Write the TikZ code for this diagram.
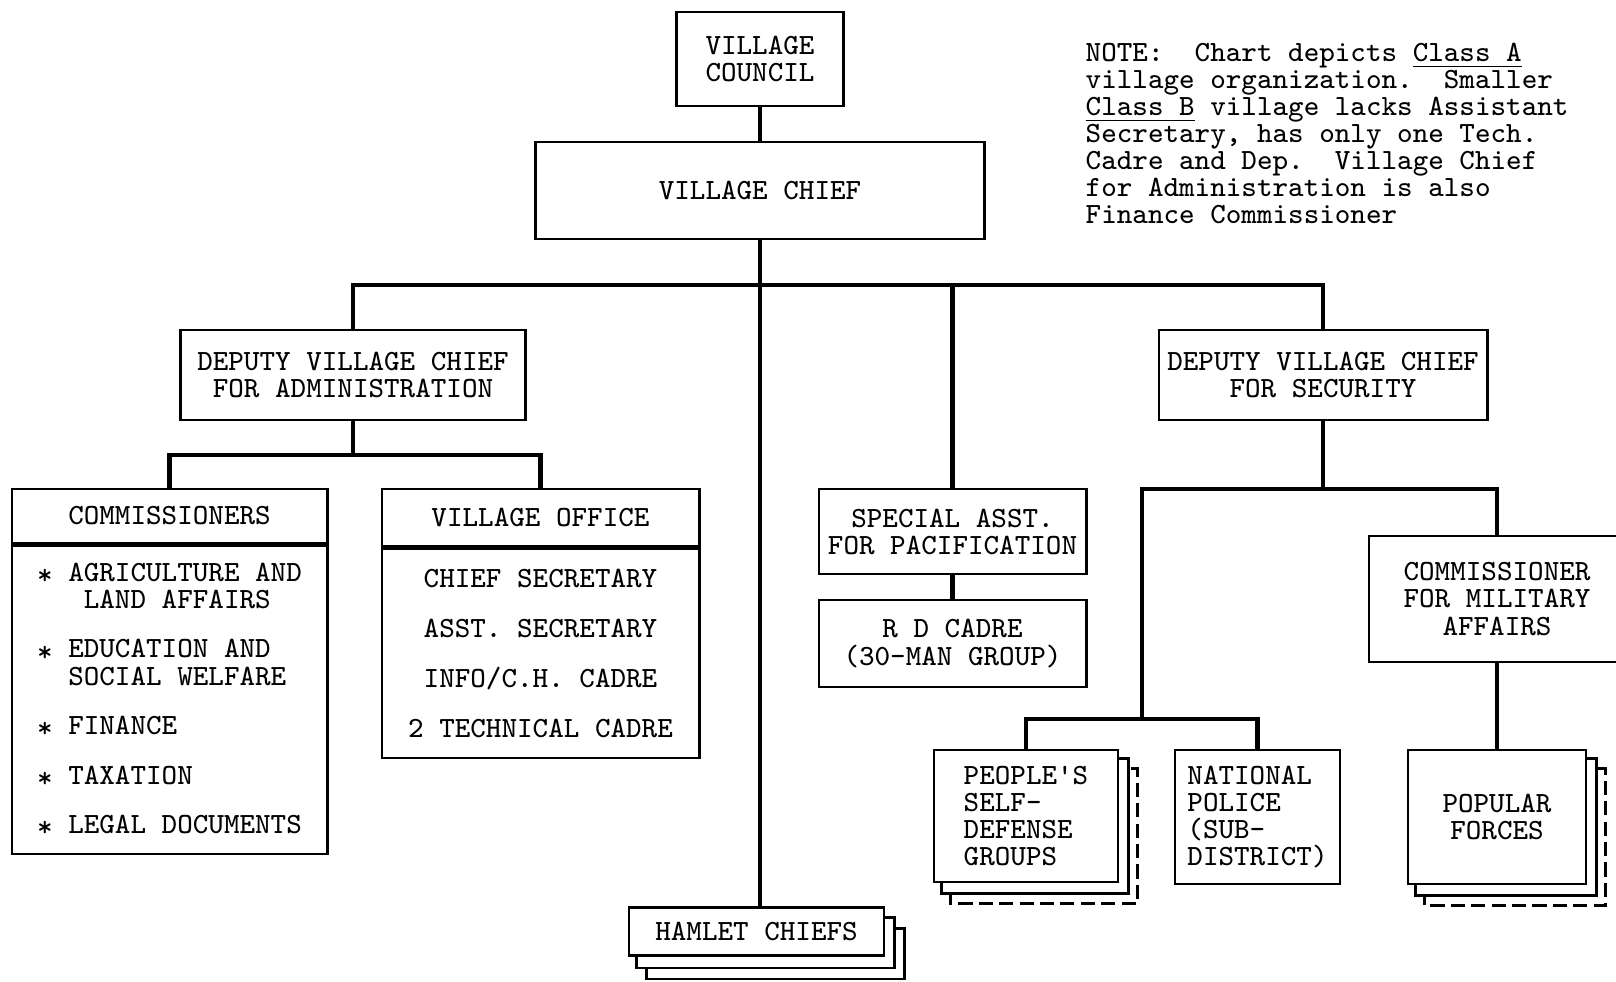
\documentclass[tikz,border=0pt]{standalone}
\usetikzlibrary{backgrounds}
\newcommand\chartfont{\ttfamily\fontsize{8.34pt}{7.7pt}\selectfont}
\newcommand\itm{\raisebox{-.25ex}{*}~}
\begin{document}
\begin{tikzpicture}[x=0.01cm,y=-0.01cm,
  unit/.style={draw,line width=.8pt,fill=white,font=\chartfont,align=center,inner sep=0pt},
  link/.style={line width=1.3pt},
  layer/.style={draw,line width=.8pt,fill=white}]
\useasboundingbox (0,0) rectangle (1616,981);
\node[unit,minimum width=1.67cm,minimum height=.94cm] (council) at (760,59) {VILLAGE\\COUNCIL};
\node[unit,minimum width=4.48cm,minimum height=.97cm] (chief) at (760,190.5) {VILLAGE CHIEF};
\node[unit,minimum width=3.45cm,minimum height=.9cm] (depadmin) at (353,375) {DEPUTY VILLAGE CHIEF\\FOR ADMINISTRATION};
\node[unit,minimum width=3.28cm,minimum height=.9cm] (depsec) at (1323,375) {DEPUTY VILLAGE CHIEF\\FOR SECURITY};
\node[unit,minimum width=3.15cm,minimum height=.54cm] (commhead) at (169.5,516) {COMMISSIONERS};
\node[unit,minimum width=3.15cm,minimum height=3.08cm,anchor=north,align=left] (commbody) at (commhead.south)
  {\itm AGRICULTURE AND\\ \phantom{***}LAND AFFAIRS\\[6.4pt]
   \itm EDUCATION AND\\ \phantom{**}SOCIAL WELFARE\\[6.4pt]
   \itm FINANCE\\[6.4pt]\itm TAXATION\\[6.4pt]\itm LEGAL DOCUMENTS};
\node[unit,minimum width=3.17cm,minimum height=.57cm] (offhead) at (540.5,517.5) {VILLAGE OFFICE};
\node[unit,minimum width=3.17cm,minimum height=2.09cm,anchor=north] (offbody) at (offhead.south)
  {CHIEF SECRETARY\\[6.6pt]ASST. SECRETARY\\[6.6pt]INFO/C.H. CADRE\\[6.6pt]2 TECHNICAL CADRE};
\node[unit,minimum width=2.67cm,minimum height=.85cm] (special) at (952.5,531.5) {SPECIAL ASST.\\FOR PACIFICATION};
\node[unit,minimum width=2.67cm,minimum height=.87cm] (rdcadre) at (952.5,643.5) {R D CADRE\\(30-MAN GROUP)};
\node[unit,minimum width=2.56cm,minimum height=1.26cm] (milcomm) at (1497,599) {COMMISSIONER\\FOR MILITARY\\AFFAIRS};
\node[unit,minimum width=1.84cm,minimum height=1.32cm,align=left] (peoples) at (1026,816) {PEOPLE'S\\SELF-\\DEFENSE\\GROUPS};
\node[unit,minimum width=1.65cm,minimum height=1.34cm,align=left] (police) at (1257.5,817) {NATIONAL\\POLICE\\(SUB-\\DISTRICT)};
\node[unit,minimum width=1.78cm,minimum height=1.34cm] (popular) at (1497,817) {POPULAR\\FORCES};
\node[unit,minimum width=2.55cm,minimum height=.48cm] (hamlet) at (756.5,931.5) {HAMLET CHIEFS};
\node[font=\chartfont,align=left,anchor=north west,inner sep=0pt] (note) at (1085,42)
  {NOTE:~~Chart depicts \underline{Class~A}\\
   village organization.~~Smaller\\
   \underline{Class~B} village lacks Assistant\\
   Secretary, has only one Tech.\\
   Cadre and Dep.~~Village Chief\\
   for Administration is also\\
   Finance Commissioner};
\begin{scope}[on background layer]
\foreach \n in {peoples,popular} {
  \draw[layer,dash pattern=on 4pt off 1.8pt] ([shift={(18,20)}]\n.north west) rectangle ([shift={(18,20)}]\n.south east);
  \draw[layer] ([shift={(9,10)}]\n.north west) rectangle ([shift={(9,10)}]\n.south east);
}
\draw[layer] ([shift={(19,22)}]hamlet.north west) rectangle ([shift={(19,22)}]hamlet.south east);
\draw[layer] ([shift={(9,11)}]hamlet.north west) rectangle ([shift={(9,11)}]hamlet.south east);
\end{scope}
\coordinate (bus) at (760,285);
\coordinate (adminbus) at (353,455);
\coordinate (secbus) at (1323,489);
\coordinate (lowbus) at (1142,719);
\draw[link] (council) -- (chief);
\draw[link] (chief.south) -- (chief.south |- hamlet.north);
\draw[link] (depadmin.north) |- (bus) -| (depsec.north);
\draw[link] (special.north) -- (special.north |- bus);
\draw[link] (special) -- (rdcadre);
\draw[link] (depadmin) -- (adminbus);
\draw[link] (commhead.north) |- (adminbus) -| (offhead.north);
\draw[link] (depsec) -- (secbus);
\draw[link] (lowbus) |- (secbus) -| (milcomm.north);
\draw[link] (peoples.north) |- (lowbus) -| (police.north);
\draw[link] (milcomm) -- (popular);
\end{tikzpicture}
\end{document}
